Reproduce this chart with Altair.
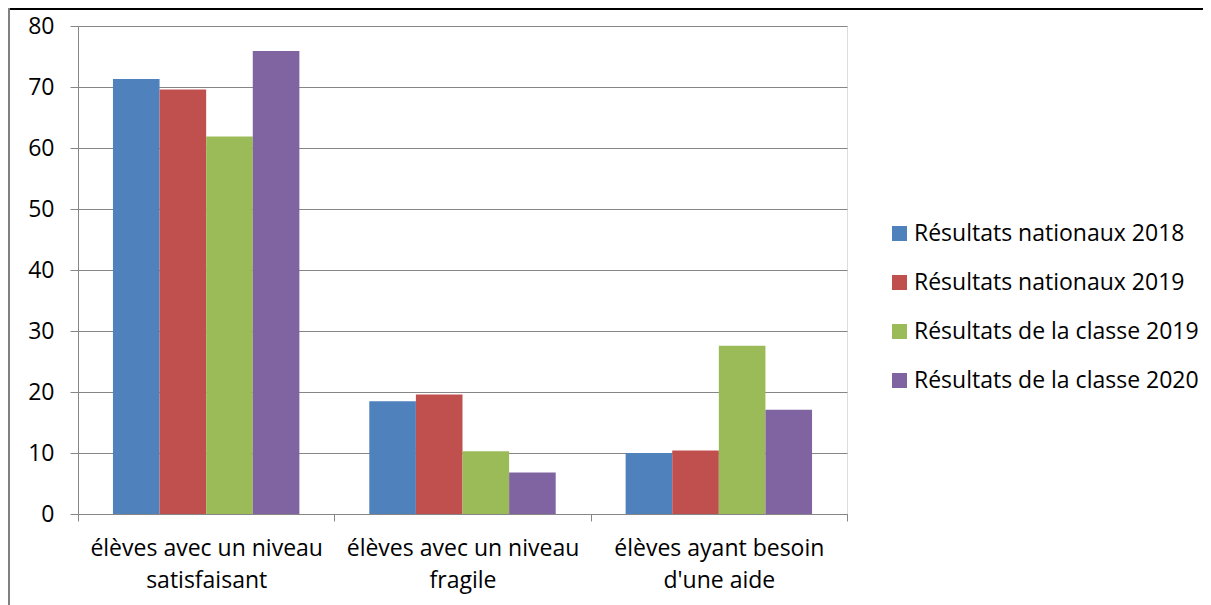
import altair as alt
import pandas as pd

categories = ["élèves avec un niveau|satisfaisant", "élèves avec un niveau|fragile", "élèves ayant besoin|d'une aide"]
series = ["Résultats nationaux 2018", "Résultats nationaux 2019", "Résultats de la classe 2019", "Résultats de la classe 2020"]
nat_2018 = [71.3, 18.5, 10.0]
nat_2019 = [69.6, 19.6, 10.4]
cls_2019 = [61.9, 10.3, 27.6]
cls_2020 = [75.9, 6.8, 17.1]
colors = ["#4F81BD", "#C0504D", "#9BBB59", "#8064A2"]

rows = []
for s, vals in zip(series, [nat_2018, nat_2019, cls_2019, cls_2020]):
    for c, v in zip(categories, vals):
        rows.append({"cat": c, "serie": s, "val": v})
df = pd.DataFrame(rows)

FONT = "Open Sans"
FS = 23
GRID = "#868686"

bars = alt.Chart(df).mark_bar().encode(
    x=alt.X("cat:N", sort=categories, title=None,
            scale=alt.Scale(paddingInner=0, paddingOuter=0),
            axis=alt.Axis(labelAngle=0,
                          labelExpr="datum.value ? split(datum.value, '|') : ''",
                          tickBand="extent", tickSize=7, tickColor=GRID,
                          domainColor=GRID, labelFont=FONT, labelFontSize=FS,
                          labelColor="#000000", labelPadding=16, labelLineHeight=32,
                          labelBaseline="top", labelLimit=0, grid=False)),
    xOffset=alt.XOffset("serie:N", sort=series,
                        scale=alt.Scale(paddingInner=0, paddingOuter=0.75)),
    y=alt.Y("val:Q", title=None,
            scale=alt.Scale(domain=[0, 80], nice=False),
            axis=alt.Axis(values=list(range(0, 81, 10)), tickSize=8, tickColor=GRID,
                          domainColor=GRID, gridColor=GRID, grid=True,
                          labelFont=FONT, labelFontSize=FS, labelColor="#000000",
                          labelPadding=16)),
    color=alt.Color("serie:N", sort=series,
                    scale=alt.Scale(domain=series, range=colors),
                    legend=alt.Legend(title=None, orient="none", legendX=810, legendY=196,
                                      symbolType="square", symbolSize=225,
                                      symbolStrokeWidth=0, labelFont=FONT,
                                      labelFontSize=FS, labelColor="#000000",
                                      labelLimit=0, rowPadding=25, labelOffset=3)),
)

frame = alt.Data(values=[{"k": 1}])
top_line = alt.Chart(frame).mark_rule(color="#000000", strokeWidth=2).encode(
    x=alt.value(-70), x2=alt.value(1125), y=alt.value(-17))
left_line = alt.Chart(frame).mark_rule(color="#808080", strokeWidth=2).encode(
    x=alt.value(-69), y=alt.value(-18), y2=alt.value(579))

chart = alt.layer(bars, top_line, left_line).properties(
    width=769, height=488,
    autosize=alt.AutoSizeParams(type="none"),
    padding={"left": 70, "top": 18, "right": 356, "bottom": 91},
).configure_view(stroke=None).configure(background="#ffffff")

chart.save("out.html", embed_options={"renderer": "svg", "actions": False})
